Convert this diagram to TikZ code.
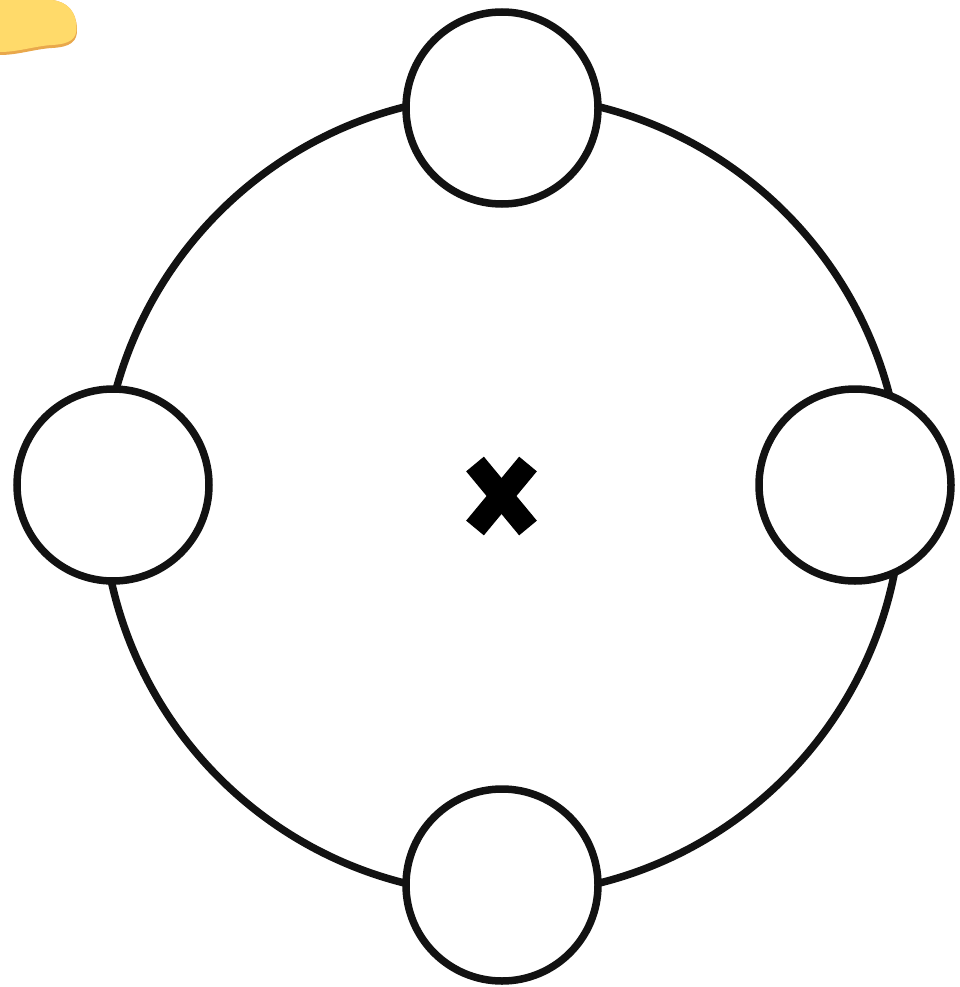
\documentclass[tikz,border=0pt]{standalone}
\begin{document}
\begin{tikzpicture}[x=1pt,y=-1pt,
  ring/.style={circle,draw=black!93,line width=7.5pt,inner sep=0pt},
  bead/.style={circle,draw=black!93,line width=7.5pt,fill=white,inner sep=0pt,minimum size=192pt},
  crossarm/.style={line width=23pt,line cap=butt,draw=black}]
\definecolor{blobyellow}{HTML}{FFDA6A}
\definecolor{blobshade}{HTML}{E9A84C}
\useasboundingbox (0,0) rectangle (959,987);
% yellow highlight blob
\fill[blobshade] (0,0) -- (52,0) .. controls (68,2) and (76,12) .. (77,28)
  .. controls (78,42) and (70,47) .. (52,48) .. controls (35,49) and (18,55) .. (0,55) -- cycle;
\fill[blobyellow] (0,0) -- (52,0) .. controls (68,2) and (76,12) .. (76.5,27)
  .. controls (77,39) and (70,44) .. (52,45) .. controls (35,46) and (18,52) .. (0,52) -- cycle;
% big ring
\node[ring,minimum size=800pt] (ring) at (502,495) {};
% beads
\node[bead] (top) at (502,108) {};
\node[bead] (left) at (113,485) {};
\node[bead] (right) at (855,485) {};
\node[bead] (bottom) at (502,885) {};
% centre cross
\draw[crossarm] (475,464) -- (528,528);
\draw[crossarm] (528,464) -- (475,528);
\end{tikzpicture}
\end{document}
